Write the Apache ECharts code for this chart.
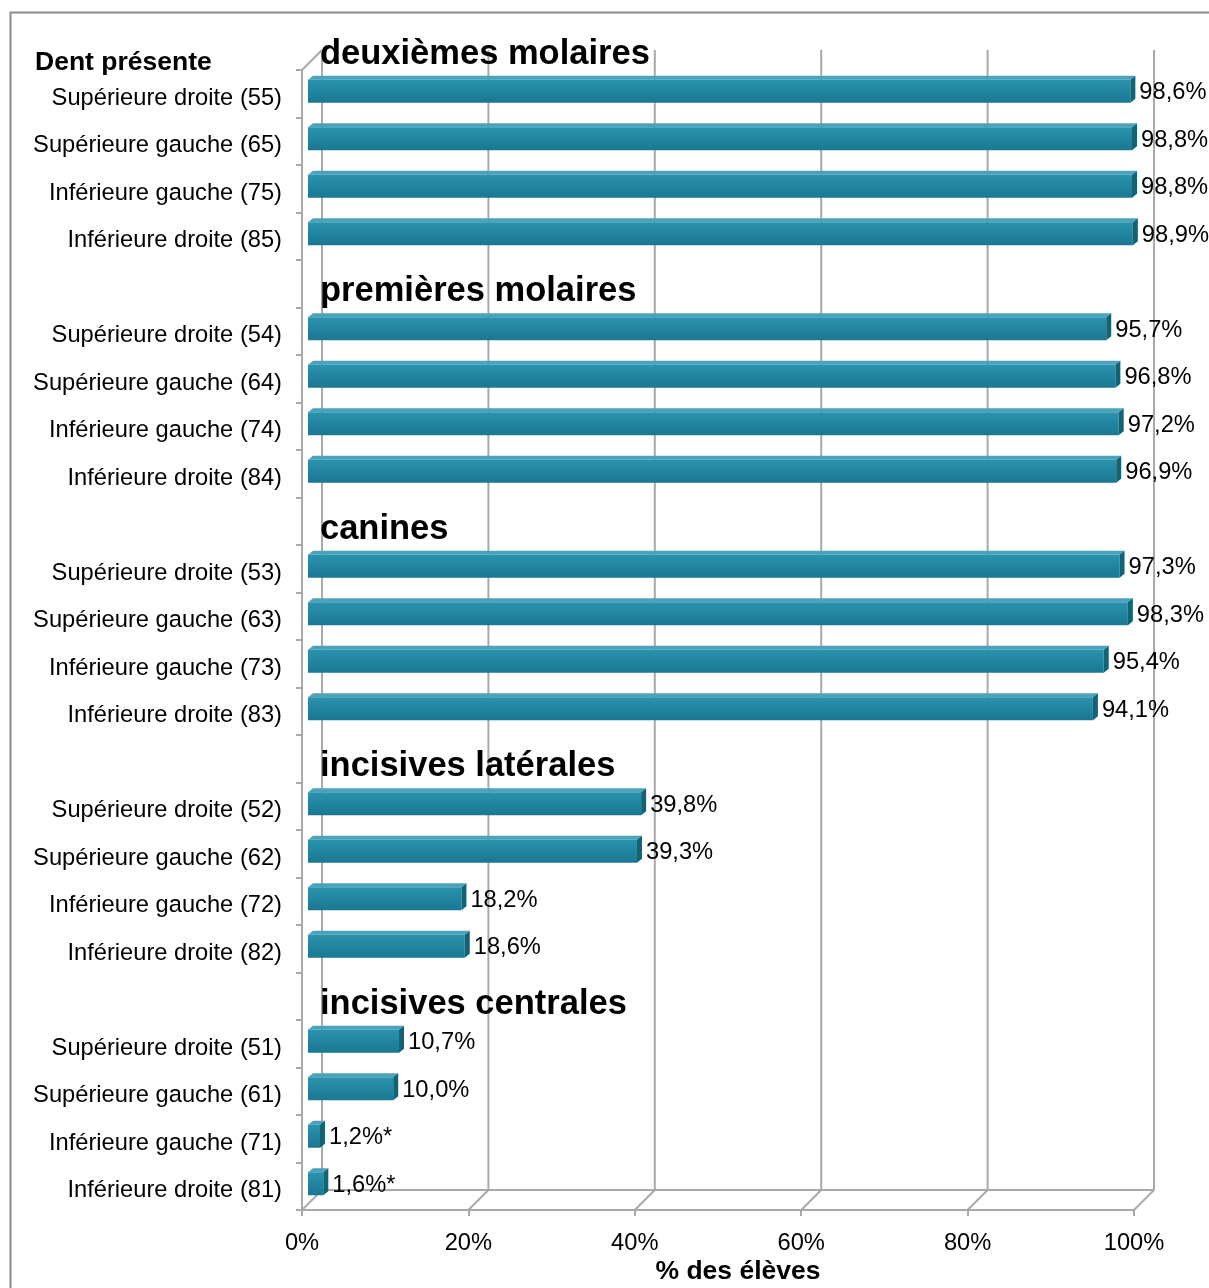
<!DOCTYPE html>
<html>
<head>
<meta charset="utf-8">
<script src="https://cdn.jsdelivr.net/npm/echarts@6/dist/echarts.min.js"></script>
<style>
html, body { margin: 0; padding: 0; background: #fff; }
#chart { width: 1209px; height: 1288px; }
</style>
</head>
<body>
<div id="chart"></div>
<script>
// category slots, top to bottom ('' = gap where a group title sits)
var categories = [
  'Supérieure droite (55)', 'Supérieure gauche (65)', 'Inférieure gauche (75)', 'Inférieure droite (85)', '',
  'Supérieure droite (54)', 'Supérieure gauche (64)', 'Inférieure gauche (74)', 'Inférieure droite (84)', '',
  'Supérieure droite (53)', 'Supérieure gauche (63)', 'Inférieure gauche (73)', 'Inférieure droite (83)', '',
  'Supérieure droite (52)', 'Supérieure gauche (62)', 'Inférieure gauche (72)', 'Inférieure droite (82)', '',
  'Supérieure droite (51)', 'Supérieure gauche (61)', 'Inférieure gauche (71)', 'Inférieure droite (81)'
];
var values = [
  98.6, 98.8, 98.8, 98.9, null,
  95.7, 96.8, 97.2, 96.9, null,
  97.3, 98.3, 95.4, 94.1, null,
  39.8, 39.3, 18.2, 18.6, null,
  10.7, 10.0, 1.2, 1.6
];
var valueMarks = [
  '', '', '', '', '',
  '', '', '', '', '',
  '', '', '', '', '',
  '', '', '', '', '',
  '', '', '*', '*'
];
var groupNames = ['deuxièmes molaires', 'premières molaires', 'canines', 'incisives latérales', 'incisives centrales'];
var groupSlots = [-1, 4, 9, 14, 19];   // -1 = above the first slot
var xTicks = [0, 20, 40, 60, 80, 100];

var FONT = '"Liberation Sans", Arial, sans-serif';
var GRID = '#a9a9a9';
var DEPTH = 20;

var chart = echarts.init(document.getElementById('chart'));

var barData = [];
values.forEach(function (v, i) {
  if (v !== null) barData.push([v, i]);
});

function fmt(v, i) {
  return v.toFixed(1).replace('.', ',') + '%' + valueMarks[i];
}

chart.setOption({
  animation: false,
  title: {
    text: 'Dent présente',
    left: 35,
    top: 49,
    padding: 0,
    textStyle: { fontFamily: FONT, fontSize: 26.5, fontWeight: 'bold', color: '#000' }
  },
  graphic: [
    {
      type: 'rect', left: 8, top: 10, silent: true,
      shape: { width: 1240, height: 1320 },
      style: { fill: 'none', stroke: '#8a8a8a', lineWidth: 2 }
    },
    {
      type: 'text', x: 738, y: 1272,
      style: { text: '% des élèves', font: 'bold 26.5px ' + FONT, fill: '#000', align: 'center', verticalAlign: 'middle' }
    }
  ],
  grid: { left: 302, top: 70, width: 832, height: 1140, containLabel: false },
  xAxis: {
    type: 'value', min: 0, max: 100, interval: 20,
    splitLine: { show: false },
    axisLine: { show: true, lineStyle: { color: GRID, width: 2 } },
    axisTick: { show: true, length: 6, lineStyle: { color: GRID, width: 2 } },
    axisLabel: { formatter: '{value}%', fontFamily: FONT, fontSize: 23.7, color: '#000', margin: 21 }
  },
  yAxis: {
    type: 'category', data: categories, inverse: true,
    axisLine: { show: true, lineStyle: { color: GRID, width: 2 } },
    axisTick: { show: true, length: 6, lineStyle: { color: GRID, width: 2 } },
    axisLabel: {
      margin: 20,
      formatter: function (v) { return v ? '{a|' + v + '}' : ''; },
      rich: { a: { fontFamily: FONT, fontSize: 23.7, color: '#000', padding: [9, 0, 0, 0] } }
    }
  },
  series: [
    {
      // back walls and floor of the 3D frame
      type: 'custom', z: 1, silent: true,
      data: xTicks.map(function (t) { return [t, 0]; }),
      renderItem: function (params, api) {
        var cs = params.coordSys;
        var p = api.coord([api.value(0), 0]);
        var top = cs.y, bottom = cs.y + cs.height;
        var ls = { stroke: GRID, lineWidth: 2 };
        var kids = [
          { type: 'line', shape: { x1: p[0] + DEPTH, y1: top - DEPTH, x2: p[0] + DEPTH, y2: bottom - DEPTH }, style: ls },
          { type: 'line', shape: { x1: p[0], y1: bottom, x2: p[0] + DEPTH, y2: bottom - DEPTH }, style: ls }
        ];
        if (params.dataIndex === 0) {
          var pEnd = api.coord([xTicks[xTicks.length - 1], 0]);
          kids.push({ type: 'line', shape: { x1: p[0], y1: top, x2: p[0] + DEPTH, y2: top - DEPTH }, style: ls });
          kids.push({ type: 'line', shape: { x1: p[0] + DEPTH, y1: bottom - DEPTH, x2: pEnd[0] + DEPTH, y2: bottom - DEPTH }, style: ls });
        }
        return { type: 'group', children: kids };
      }
    },
    {
      // 3D-looking bars
      type: 'custom', z: 3,
      data: barData,
      encode: { x: 0, y: 1 },
      renderItem: function (params, api) {
        var v = api.value(0), idx = api.value(1);
        var s = api.coord([0, idx]), e = api.coord([v, idx]);
        var c = s[1];
        var x1 = s[0] + 6, x2 = e[0] + 8, y1 = c - 14, y2 = c + 9, d = 5, dy = 4;
        return {
          type: 'group',
          children: [
            { type: 'polygon', shape: { points: [[x1, y1], [x1 + d, y1 - dy], [x2 + d, y1 - dy], [x2, y1]] },
              style: { fill: '#4aa3bb' } },
            { type: 'rect', shape: { x: x1, y: y1, width: x2 - x1, height: y2 - y1 },
              style: { fill: new echarts.graphic.LinearGradient(0, 0, 0, 1, [
                { offset: 0, color: '#2a93ae' }, { offset: 1, color: '#1a7791' }]) } },
            { type: 'polygon', shape: { points: [[x2, y1], [x2 + d, y1 - dy], [x2 + d, y2 - dy], [x2, y2]] },
              style: { fill: '#166273' } },
            { type: 'text', x: x2 + d + 4, y: c - 1,
              style: { text: fmt(v, idx), font: '23.7px ' + FONT, fill: '#000', align: 'left', verticalAlign: 'middle' } }
          ]
        };
      }
    },
    {
      // group titles in the gap slots
      type: 'custom', z: 4, silent: true,
      data: groupNames.map(function (n, i) { return [0, Math.max(groupSlots[i], 0), i]; }),
      encode: { x: 0, y: 1 },
      renderItem: function (params, api) {
        var i = api.value(2);
        var p = api.coord([0, api.value(1)]);
        var band = api.size([0, 1])[1];
        var y = p[1] + (groupSlots[i] < 0 ? -band : 0) + 8;
        return {
          type: 'text', x: p[0] + 18, y: y,
          style: { text: groupNames[i], font: 'bold 34.5px ' + FONT, fill: '#000', align: 'left', verticalAlign: 'middle' }
        };
      }
    }
  ]
});
</script>
</body>
</html>
